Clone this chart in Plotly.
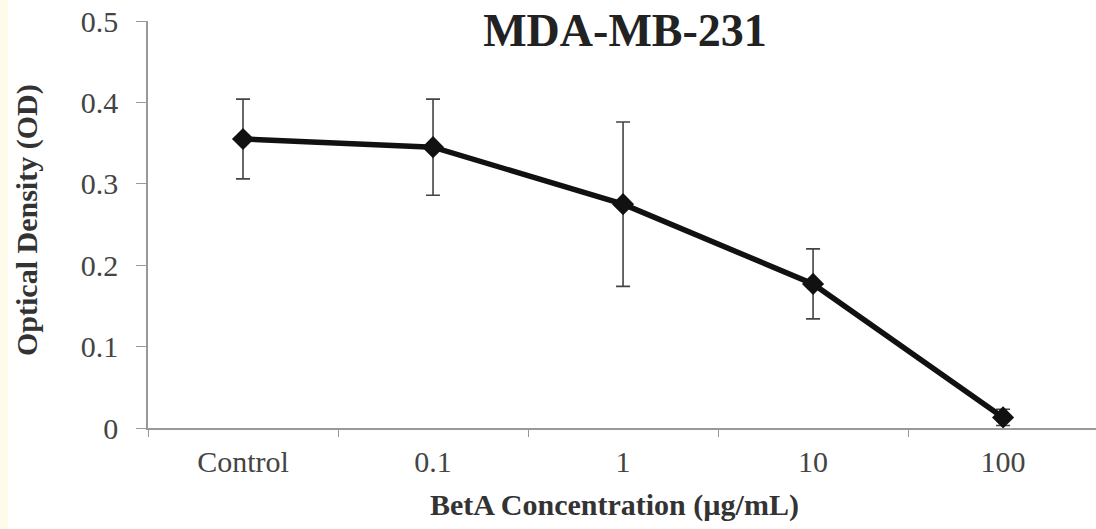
import plotly.graph_objects as go

categories = ["Control", "0.1", "1", "10", "100"]
od_mean = [0.355, 0.345, 0.275, 0.177, 0.013]
od_err = [0.049, 0.059, 0.101, 0.043, 0.010]
y_ticks = [0, 0.1, 0.2, 0.3, 0.4, 0.5]
y_ticklabels = ["0", "0.1", "0.2", "0.3", "0.4", "0.5"]

W, H = 1096, 529
L, R, T, B = 148, 0, 21, 101
PW, PH = W - L - R, H - T - B
serif = "Liberation Serif, Times New Roman, serif"

fig = go.Figure()
fig.add_trace(go.Scatter(
    x=categories, y=od_mean,
    mode="lines+markers",
    line=dict(color="#111111", width=5.5),
    marker=dict(symbol="diamond", size=17, color="#111111"),
    error_y=dict(type="data", array=od_err, visible=True,
                 color="#444444", thickness=1.6, width=7),
    showlegend=False,
))

fig.update_layout(
    width=W, height=H,
    margin=dict(l=L, r=R, t=T, b=B, autoexpand=False),
    paper_bgcolor="white", plot_bgcolor="white",
    font=dict(family=serif, color="#333333"),
    title=dict(text="<b>MDA-MB-231</b>", x=(625 - L) / PW, xref="paper", xanchor="center",
               y=1 - 30 / H, yref="container", yanchor="middle",
               font=dict(family=serif, size=46, color="#222222")),
    xaxis=dict(
        type="category", range=[-0.5, 4.489],
        showline=True, linecolor="#999999", linewidth=1.5,
        ticks="outside", tickson="boundaries", ticklen=7, tickcolor="#999999",
        tickfont=dict(family=serif, size=30, color="#444444"),
        ticklabelstandoff=6,
        showgrid=False, zeroline=False,
    ),
    yaxis=dict(
        range=[0, 0.5], tickvals=y_ticks, ticktext=y_ticklabels,
        showline=True, linecolor="#999999", linewidth=1.5,
        ticks="outside", ticklen=10, tickcolor="#999999",
        tickfont=dict(family=serif, size=30, color="#444444"),
        ticklabelstandoff=12,
        showgrid=False, zeroline=False,
    ),
    shapes=[dict(type="rect", xref="paper", yref="paper",
                 x0=-L / PW, x1=(8 - L) / PW,
                 y0=-B / PH, y1=(H - B) / PH,
                 fillcolor="#FFFBEA", line=dict(width=0), layer="below")],
    annotations=[
        dict(text="<b>BetA Concentration (µg/mL)</b>", xref="paper", yref="paper",
             x=(614 - L) / PW, y=-(505 - (H - B)) / PH,
             xanchor="center", yanchor="middle", showarrow=False,
             font=dict(family=serif, size=30, color="#333333")),
        dict(text="<b>Optical Density (OD)</b>", xref="paper", yref="paper",
             x=(27 - L) / PW, y=((H - B) - 220) / PH,
             xanchor="center", yanchor="middle", showarrow=False, textangle=-90,
             font=dict(family=serif, size=30, color="#333333")),
    ],
)

fig.write_html("out.html", config={"displayModeBar": False},
               post_script="document.body.style.margin='0';")
